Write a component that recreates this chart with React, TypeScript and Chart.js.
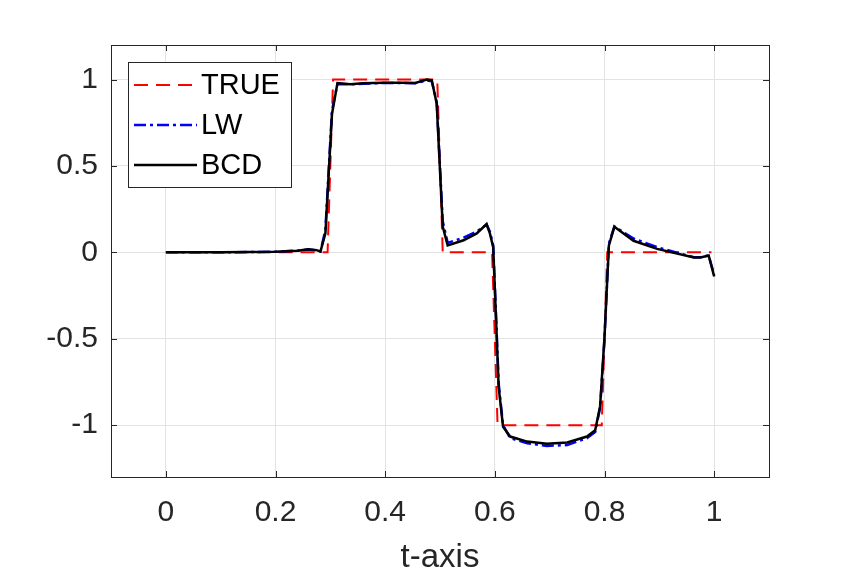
import React, { useEffect, useRef } from "react";
import { Chart, registerables } from "chart.js";
Chart.register(...registerables);

const T_TRUE = [0.005, 0.295, 0.305, 0.495, 0.505, 0.595, 0.605, 0.795, 0.805, 0.995];
const V_TRUE = [0, 0, 1, 1, 0, 0, -1, -1, 0, 0];

const T_NUM = [0, 0.1, 0.2, 0.24, 0.26, 0.275, 0.282, 0.291, 0.303, 0.313, 0.336, 0.36, 0.397, 0.43, 0.455, 0.476, 0.485, 0.494, 0.505, 0.514, 0.543, 0.567, 0.585, 0.591, 0.597, 0.601, 0.607, 0.615, 0.628, 0.659, 0.695, 0.732, 0.768, 0.783, 0.792, 0.8, 0.808, 0.818, 0.853, 0.896, 0.963, 0.975, 0.99, 1.0];
const V_BCD = [0, 0, 0.004, 0.01, 0.018, 0.013, 0.004, 0.11, 0.8, 0.98, 0.973, 0.978, 0.982, 0.982, 0.98, 1.0, 0.996, 0.86, 0.15, 0.04, 0.07, 0.11, 0.164, 0.11, 0.03, -0.29, -0.78, -1.01, -1.066, -1.095, -1.108, -1.1, -1.066, -1.03, -0.89, -0.49, 0.04, 0.148, 0.067, 0.02, -0.03, -0.03, -0.018, -0.14];
const V_LW = [0, 0, 0.004, 0.01, 0.016, 0.012, 0.005, 0.13, 0.82, 0.975, 0.972, 0.976, 0.98, 0.98, 0.979, 0.995, 0.99, 0.87, 0.18, 0.055, 0.085, 0.12, 0.16, 0.12, 0.04, -0.27, -0.76, -1.0, -1.075, -1.105, -1.12, -1.115, -1.075, -1.04, -0.9, -0.5, 0.05, 0.15, 0.08, 0.03, -0.028, -0.028, -0.018, -0.13];

const X_TICKS = [0, 0.2, 0.4, 0.6, 0.8, 1];
const Y_TICKS = [-1, -0.5, 0, 0.5, 1];
const X_LABEL = "t-axis";
const SERIES_NAMES = ["TRUE", "LW", "BCD"];

const FONT = "'Liberation Sans', Arial, Helvetica, sans-serif";
const AXIS_COLOR = "#262626";

const toXY = (ts: number[], vs: number[]) => ts.map((t, i) => ({ x: t, y: vs[i] }));

const boxPlugin = {
  id: "matlabBox",
  afterDraw(chart: any) {
    const { ctx, chartArea } = chart;
    const { left, right, top, bottom } = chartArea;
    const xs = chart.scales.x;
    const ys = chart.scales.y;
    ctx.save();
    ctx.strokeStyle = AXIS_COLOR;
    ctx.lineWidth = 1;
    ctx.setLineDash([]);
    ctx.beginPath();
    const tl = 6;
    X_TICKS.forEach((v) => {
      const px = Math.round(xs.getPixelForValue(v)) + 0.5;
      ctx.moveTo(px, bottom);
      ctx.lineTo(px, bottom - tl);
      ctx.moveTo(px, top);
      ctx.lineTo(px, top + tl);
    });
    Y_TICKS.forEach((v) => {
      const py = Math.round(ys.getPixelForValue(v)) + 0.5;
      ctx.moveTo(left, py);
      ctx.lineTo(left + tl, py);
      ctx.moveTo(right, py);
      ctx.lineTo(right - tl, py);
    });
    ctx.stroke();
    ctx.strokeRect(Math.round(left) + 0.5, Math.round(top) + 0.5, Math.round(right - left), Math.round(bottom - top));

    // legend
    const lx = 128, ly = 62, lw = 163, lh = 125;
    ctx.fillStyle = "#ffffff";
    ctx.fillRect(lx, ly, lw, lh);
    ctx.strokeStyle = AXIS_COLOR;
    ctx.lineWidth = 1;
    ctx.strokeRect(lx + 0.5, ly + 0.5, lw, lh);
    const ds = chart.data.datasets;
    SERIES_NAMES.forEach((name, i) => {
      const d = ds[i];
      const cy = ly + 23 + i * 40;
      ctx.beginPath();
      ctx.strokeStyle = d.borderColor;
      ctx.lineWidth = d.borderWidth;
      ctx.setLineDash(d.borderDash || []);
      ctx.moveTo(lx + 6, cy);
      ctx.lineTo(lx + 69, cy);
      ctx.stroke();
      ctx.setLineDash([]);
      ctx.fillStyle = "#000000";
      ctx.font = `29px ${FONT}`;
      ctx.textAlign = "left";
      ctx.textBaseline = "middle";
      ctx.fillText(name, lx + 73, cy + 1);
    });
    ctx.restore();
  },
};

export default function App() {
  const ref = useRef<HTMLCanvasElement | null>(null);
  useEffect(() => {
    if (!ref.current) return;
    const chart = new Chart(ref.current, {
      type: "line",
      data: {
        datasets: [
          {
            label: SERIES_NAMES[0],
            data: toXY(T_TRUE, V_TRUE),
            borderColor: "#ff0000",
            borderWidth: 2,
            borderDash: [14, 8],
            pointRadius: 0,
            fill: false,
            tension: 0,
            order: 3,
          },
          {
            label: SERIES_NAMES[1],
            data: toXY(T_NUM, V_LW),
            borderColor: "#0000ff",
            borderWidth: 2.5,
            borderDash: [12, 4, 3, 4],
            pointRadius: 0,
            fill: false,
            tension: 0,
            order: 2,
          },
          {
            label: SERIES_NAMES[2],
            data: toXY(T_NUM, V_BCD),
            borderColor: "#000000",
            borderWidth: 2.5,
            pointRadius: 0,
            fill: false,
            tension: 0,
            order: 1,
          },
        ],
      },
      options: {
        animation: false,
        responsive: false,
        layout: { padding: { left: 0, top: 45, right: 81, bottom: 0 } },
        plugins: { legend: { display: false }, tooltip: { enabled: false } },
        scales: {
          x: {
            type: "linear",
            min: -0.1,
            max: 1.1,
            afterBuildTicks: (s: any) => {
              s.ticks = X_TICKS.map((v) => ({ value: v }));
            },
            afterFit: (s: any) => {
              s.height = 103;
            },
            grid: { color: "#e3e3e3", lineWidth: 1, drawTicks: false },
            border: { display: false },
            ticks: {
              padding: 18,
              color: AXIS_COLOR,
              font: { family: FONT, size: 30 },
              callback: (v: any) => String(Math.round(Number(v) * 10) / 10),
              maxRotation: 0,
            },
            title: {
              display: true,
              text: X_LABEL,
              color: AXIS_COLOR,
              font: { family: FONT, size: 33 },
              padding: { top: 0, bottom: 2 },
            },
          },
          y: {
            type: "linear",
            min: -1.3,
            max: 1.2,
            afterBuildTicks: (s: any) => {
              s.ticks = Y_TICKS.map((v) => ({ value: v }));
            },
            afterFit: (s: any) => {
              s.width = 111;
            },
            grid: { color: "#e3e3e3", lineWidth: 1, drawTicks: false },
            border: { display: false },
            ticks: {
              padding: 13,
              color: AXIS_COLOR,
              font: { family: FONT, size: 30 },
              callback: (v: any) => String(Math.round(Number(v) * 10) / 10),
            },
          },
        },
      },
      plugins: [boxPlugin],
    });
    return () => chart.destroy();
  }, []);
  return (
    <div style={{ position: "fixed", left: 0, top: 0, width: 850, height: 580, background: "#ffffff" }}>
      <canvas ref={ref} width={850} height={580} />
    </div>
  );
}
